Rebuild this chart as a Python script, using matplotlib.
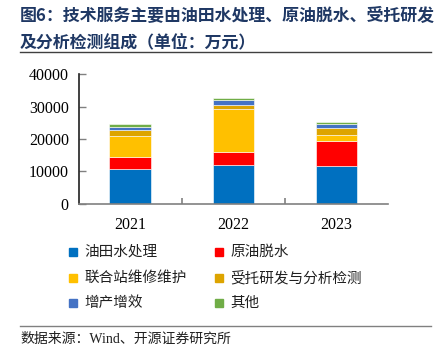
import matplotlib
matplotlib.use("Agg")
import matplotlib.pyplot as plt
from matplotlib.patches import Rectangle
from matplotlib.lines import Line2D
import numpy as np

plt.rcParams['font.family'] = ['Noto Sans CJK SC', 'DejaVu Sans']

years = ['2021', '2022', '2023']
series_names = ['油田水处理', '原油脱水', '联合站维修维护', '受托研发与分析检测', '增产增效', '其他']
oil_water = [10730, 11880, 11660]
dehydration = [3720, 4130, 7750]
station_maint = [6420, 13240, 1770]
rnd_testing = [1860, 1240, 2270]
production = [930, 1450, 1050]
others = [840, 810, 810]
colors = ['#0070C0', '#FF0000', '#FFC000', '#DDA400', '#4472C4', '#70AD47']
yticks = [0, 10000, 20000, 30000, 40000]

title = '图6：技术服务主要由油田水处理、原油脱水、受托研发\n及分析检测组成（单位：万元）'
source = '数据来源：Wind、开源证券研究所'

W, H = 443, 360
fig = plt.figure(figsize=(W/100, H/100), dpi=100)

def fx(px): return px / W
def fy(py): return 1 - py / H

# title
fig.text(fx(20), fy(16), title.split('\n')[0], fontsize=12.2, fontweight='bold',
         color='#1F3864', va='center', ha='left')
fig.text(fx(20), fy(42), title.split('\n')[1], fontsize=12.2, fontweight='bold',
         color='#1F3864', va='center', ha='left')
fig.add_artist(Line2D([fx(20), fx(431)], [fy(52), fy(52)], color='#404040', lw=1.0))

ax = fig.add_axes([fx(78.5), fy(203.5), fx(388 - 78.5), (203.5 - 74.3) / H])
data = [oil_water, dehydration, station_maint, rnd_testing, production, others]
x = np.arange(len(years))
bottom = np.zeros(len(years))
for vals, c, name in zip(data, colors, series_names):
    ax.bar(x, vals, 0.4, bottom=bottom, color=c, edgecolor='white', linewidth=0.4, label=name)
    bottom += np.array(vals)

ax.set_xlim(-0.5, 2.5)
ax.set_ylim(0, 40000)
ax.set_yticks(yticks)
ax.set_yticklabels([str(v) for v in yticks], family='Liberation Serif', fontsize=11.5)
ax.set_xticks(x)
ax.set_xticklabels(years, family='Liberation Serif', fontsize=11.5)
ax.tick_params(axis='x', length=0, pad=10)
ax.set_xticks([0.5, 1.5], minor=True)
ax.tick_params(axis='x', which='minor', direction='in', length=4, color='#808080', width=1.2)
ax.tick_params(axis='y', direction='in', length=5, color='#808080', width=1, pad=7)
for s in ['top', 'right']:
    ax.spines[s].set_visible(False)
ax.spines['left'].set_color('#202020')
ax.spines['left'].set_linewidth(1.2)
ax.spines['bottom'].set_color('#808080')
ax.spines['bottom'].set_linewidth(1.2)

# legend
pos = [(73, 252), (219, 252), (73, 278), (219, 278), (73, 303), (219, 303)]
for (px, py), c, name in zip(pos, colors, series_names):
    fig.add_artist(Rectangle((fx(px - 4), fy(py + 4)), 8 / W, 8 / H, color=c, transform=fig.transFigure))
    fig.text(fx(px + 11), fy(py), name, fontsize=10.5, va='center', ha='left', color='#202020')

fig.add_artist(Line2D([fx(20), fx(431)], [fy(326), fy(326)], color='#808080', lw=1.0))
fig.text(fx(20), fy(339), source, fontsize=10, va='center', ha='left', color='#202020',
         family=['Liberation Serif', 'Noto Sans CJK SC'])

fig.savefig('out.png', dpi=100)
